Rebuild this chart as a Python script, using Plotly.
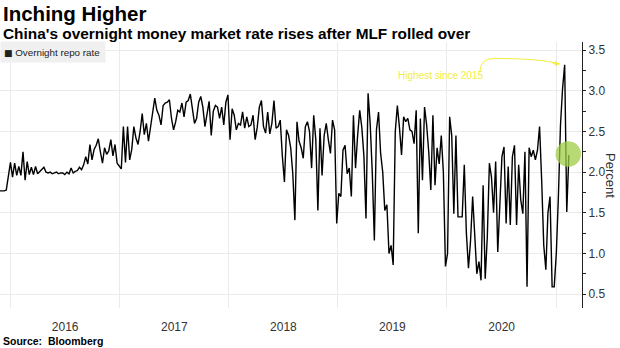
import pandas as pd
import plotly.graph_objects as go

# Weekly readings (Fridays) of China's overnight repo rate
start_date = "2015-11-27"
repo_rate = [
    1.77, 1.77, 1.77, 1.78, 1.95, 2.12, 1.94, 2.11, 1.96, 2.07,
    1.96, 2.25, 1.9, 2.13, 1.97, 2.06, 1.97, 2.07, 1.98, 2.01,
    2.03, 2.06, 2.0, 1.99, 2.0, 1.98, 1.99, 2.0, 1.98, 1.99,
    1.99, 1.97, 2.0, 1.98, 2.05, 1.99, 2.01, 2.02, 2.06, 2.03,
    2.09, 2.19, 2.1, 2.34, 2.15, 2.28, 2.33, 2.41, 2.25, 2.11,
    2.3, 2.22, 2.26, 2.4, 2.2, 2.34, 2.11, 2.08, 2.04, 2.56,
    2.12, 2.56, 2.15, 2.28, 2.56, 2.42, 2.34, 2.5, 2.72, 2.46,
    2.6, 2.38, 2.56, 2.78, 2.91, 2.76, 2.7, 2.58, 2.82, 2.85,
    2.86, 2.89, 2.66, 2.52, 2.62, 2.76, 2.74, 2.85, 2.68, 2.86,
    2.88, 2.96, 2.78, 2.6, 2.66, 2.86, 2.93, 2.8, 2.56, 2.72,
    2.87, 2.45, 2.75, 2.82, 2.8, 2.66, 2.8, 2.58, 2.86, 2.95,
    2.4, 2.78, 2.7, 2.52, 2.6, 2.58, 2.74, 2.54, 2.68, 2.56,
    2.58, 2.7, 2.4, 2.55, 2.8, 2.88, 2.56, 2.48, 2.74, 2.47,
    2.6, 2.88, 2.54, 2.56, 2.64, 2.2, 1.88, 2.52, 2.45, 2.3,
    1.98, 1.41, 2.62, 2.38, 2.3, 2.17, 2.56, 2.62, 2.5, 2.05,
    2.7, 2.4, 1.53, 2.54, 1.96, 2.45, 2.6, 2.4, 2.23, 2.64,
    2.52, 1.37, 1.74, 1.7, 2.27, 2.33, 1.98, 2.05, 1.7, 2.7,
    2.05, 2.45, 2.76, 2.55, 2.2, 1.43, 2.97, 2.6, 2.0, 1.16,
    2.52, 2.74, 2.23, 2.0, 1.53, 1.6, 1.0, 1.1, 0.86, 2.5,
    2.82, 2.55, 2.21, 2.68, 2.62, 2.66, 2.52, 2.5, 2.35, 2.76,
    1.25, 2.66, 1.9, 2.8, 2.58, 2.25, 1.78, 2.7, 1.84, 2.3,
    2.1, 2.45, 2.0, 0.84, 1.0, 2.68, 2.45, 1.49, 2.45, 1.45,
    1.45, 1.45, 2.09, 1.25, 0.82, 1.16, 1.7, 1.15, 0.75, 0.9,
    0.67, 1.84, 0.69, 1.2, 2.11, 1.94, 1.5, 2.13, 1.02, 1.6,
    2.19, 2.31, 1.37, 2.07, 1.35, 2.19, 2.33, 1.35, 2.09, 1.66,
    1.49, 2.25, 0.59, 2.3, 2.19, 2.27, 2.15, 2.27, 2.56, 1.9,
    1.1, 0.8, 1.5, 1.7, 0.59, 0.59, 1.0, 1.7, 2.58, 3.03,
    3.32, 1.51, 2.21,
]
dates = pd.date_range(start_date, periods=len(repo_rate), freq="7D")

y_ticks = [0.5, 1.0, 1.5, 2.0, 2.5, 3.0, 3.5]
series_name = "Overnight repo rate"
title_text = "Inching Higher"
subtitle_text = "China's overnight money market rate rises after MLF rolled over"
source_text = "Source:  Bloomberg"
note_text = "Highest since 2015"

FONT = "Liberation Sans"
YELLOW = "#f2ee3c"
GRID = "#ebebeb"

fig = go.Figure()
fig.add_trace(go.Scatter(
    x=dates, y=repo_rate, mode="lines", name=series_name,
    line=dict(color="#000000", width=1.4), showlegend=False,
))

fig.update_layout(
    width=620, height=348,
    margin=dict(l=0, r=38, t=42, b=40),
    plot_bgcolor="white", paper_bgcolor="white",
    font=dict(family=FONT, color="#333333", size=12),
    xaxis=dict(
        type="date",
        range=["2015-11-27", "2021-03-28"],
        dtick="M12", tick0="2016-01-01",
        tickformat="%Y", ticklabelmode="period",
        showgrid=True, gridcolor=GRID, gridwidth=1,
        ticks="outside", ticklen=8, tickcolor="rgba(0,0,0,0)",
        tickfont=dict(size=12, color="#333333"),
        zeroline=False, showline=False,
    ),
    yaxis=dict(
        side="right",
        range=[0.33, 3.6],
        tickvals=y_ticks, tickformat=".1f",
        showgrid=True, gridcolor=GRID, gridwidth=1,
        showline=True, linecolor="#222222", linewidth=1,
        ticks="outside", ticklen=3, tickcolor="#222222",
        minor=dict(dtick=0.25, tick0=0.5, ticks="outside", ticklen=3,
                   tickcolor="#222222", showgrid=False),
        tickfont=dict(size=12, color="#333333"),
        zeroline=False,
    ),
)

W, H, TOP = 582.0, 266.0, 308.0


def px(xp):
    return xp / W


def py(yp):
    return (TOP - yp) / H


anns = [
    dict(text="<b>" + title_text + "</b>", x=px(1), y=py(14), xanchor="left", yanchor="middle",
         font=dict(size=20.5, color="#000000", family=FONT)),
    dict(text="<b>" + subtitle_text + "</b>", x=px(1), y=py(33), xanchor="left", yanchor="middle",
         font=dict(size=15.4, color="#000000", family=FONT)),
    dict(text="<b>" + source_text + "</b>", x=px(1), y=py(341), xanchor="left", yanchor="middle",
         font=dict(size=10.5, color="#000000", family=FONT)),
    dict(text="<span style='font-family:DejaVu Sans;font-size:9px;'>■</span> " + series_name,
         x=0, y=py(41), xanchor="left", yanchor="top", align="left",
         width=98, height=14, borderpad=3, bgcolor="#f0f0f0",
         font=dict(size=9.8, color="#222222", family=FONT)),
    dict(text="Percent", x=px(611), y=py(175), xanchor="center", yanchor="middle",
         textangle=90, font=dict(size=13, color="#333333", family=FONT)),
    dict(text=note_text, x=px(440), y=py(75.5), xanchor="center", yanchor="middle",
         font=dict(size=10, color=YELLOW, family=FONT)),
    dict(text="", x=px(560), y=py(64), showarrow=True, ax=-9, ay=-1,
         arrowhead=2, arrowsize=1, arrowwidth=1, arrowcolor=YELLOW, standoff=0),
]
for a in anns:
    a.setdefault("showarrow", False)
    a["xref"] = "paper"
    a["yref"] = "paper"
fig.update_layout(annotations=anns)

curve = "M {:.4f},{:.4f} C {:.4f},{:.4f} {:.4f},{:.4f} {:.4f},{:.4f} Q {:.4f},{:.4f} {:.4f},{:.4f}".format(
    px(480), py(71), px(481), py(60), px(487), py(58), px(500), py(58.5),
    px(540), py(58.5), px(560), py(64))
fig.add_shape(type="path", path=curve, xref="paper", yref="paper",
              line=dict(color=YELLOW, width=1))
fig.add_shape(type="circle", xref="paper", yref="paper",
              x0=px(555.6), x1=px(581), y0=py(166.7), y1=py(141.3),
              fillcolor="rgba(160,205,70,0.75)", line=dict(width=0), layer="above")

fig.write_html("out.html")
